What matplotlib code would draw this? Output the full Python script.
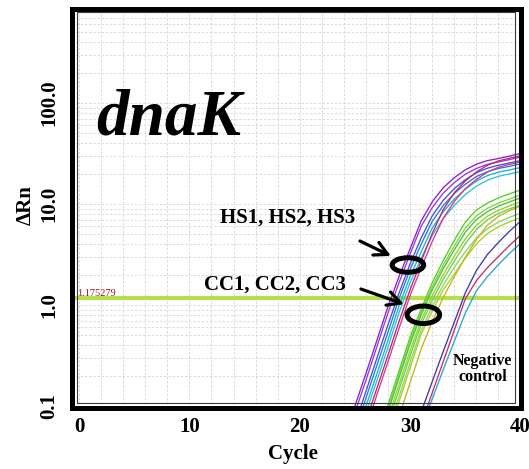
import matplotlib
matplotlib.use("Agg")
import matplotlib.pyplot as plt
from matplotlib.patches import Ellipse, Rectangle
from matplotlib.ticker import MultipleLocator, LogLocator, NullFormatter

plt.rcParams['font.family'] = ['Liberation Serif', 'DejaVu Serif']

# ---- amplification data (delta Rn per cycle) ----
HS_CYCLES = list(range(24, 41))
HS_CURVES = [
    [0.047, 0.10, 0.21, 0.45, 0.97, 1.92, 3.6, 6.8, 10.5, 14.5, 18.2, 21.8, 24.8, 26.9, 28.2, 29.8, 31.6],
    [0.040, 0.086, 0.18, 0.39, 0.84, 1.67, 3.2, 6.0, 9.2, 12.8, 16.3, 19.7, 22.5, 24.7, 26.1, 27.5, 29.2],
    [0.031, 0.066, 0.14, 0.30, 0.64, 1.32, 2.56, 4.61, 7.62, 10.9, 14.2, 17.4, 20.4, 22.6, 24.2, 25.5, 27.0],
    [0.026, 0.056, 0.12, 0.255, 0.54, 1.16, 2.25, 4.0, 6.71, 9.66, 12.7, 15.7, 18.7, 20.9, 22.5, 23.6, 25.0],
    [0.022, 0.047, 0.10, 0.21, 0.45, 0.98, 1.92, 3.36, 5.78, 8.39, 11.2, 14.0, 16.9, 19.1, 20.7, 21.7, 23.0],
    [0.019, 0.040, 0.086, 0.18, 0.385, 0.84, 1.67, 2.89, 4.86, 7.18, 9.68, 12.4, 15.0, 17.2, 18.8, 19.9, 21.0],
    [0.0155, 0.033, 0.071, 0.151, 0.32, 0.69, 1.42, 2.72, 5.1, 8.81, 12.9, 16.9, 20.7, 24.2, 26.7, 28.4, 30.0],
    [0.0133, 0.0285, 0.061, 0.13, 0.275, 0.59, 1.24, 2.33, 4.25, 7.23, 10.6, 14.2, 17.5, 20.7, 23.1, 24.7, 26.0],
]
HS_COLORS = ['#8a22cc', '#9a34e0', '#3656d6', '#2f72e0', '#16b2d0', '#2cc2dc', '#c42274', '#d23a8e']

CC_CYCLES = list(range(24, 41))
CC_CURVES = [
    [0.0049, 0.0105, 0.022, 0.048, 0.103, 0.223, 0.482, 0.912, 1.66, 2.75, 4.37, 6.61, 8.71, 10.2, 11.5, 12.6, 13.8],
    [0.0045, 0.0097, 0.0207, 0.044, 0.0955, 0.206, 0.446, 0.855, 1.52, 2.48, 3.85, 5.77, 7.62, 9.06, 10.2, 11.2, 12.3],
    [0.0042, 0.009, 0.019, 0.041, 0.088, 0.191, 0.413, 0.80, 1.41, 2.29, 3.52, 5.25, 7.0, 8.41, 9.53, 10.5, 11.5],
    [0.0036, 0.0077, 0.0165, 0.035, 0.076, 0.164, 0.354, 0.706, 1.23, 2.0, 3.04, 4.52, 6.15, 7.57, 8.65, 9.57, 10.5],
    [0.0032, 0.0068, 0.0147, 0.031, 0.068, 0.146, 0.315, 0.643, 1.11, 1.80, 2.72, 4.05, 5.58, 6.98, 8.04, 8.93, 9.8],
    [0.0027, 0.0059, 0.0127, 0.027, 0.058, 0.125, 0.27, 0.565, 0.968, 1.57, 2.36, 3.37, 4.59, 5.69, 6.62, 7.38, 8.1],
    [0.0024, 0.0052, 0.0113, 0.024, 0.052, 0.111, 0.24, 0.514, 0.871, 1.41, 2.03, 2.91, 4.04, 5.09, 5.95, 6.66, 7.3],
    [0.0018, 0.0037, 0.008, 0.017, 0.037, 0.079, 0.17, 0.368, 0.685, 1.19, 1.91, 2.97, 4.46, 6.17, 7.53, 8.59, 9.5],
]
CC_COLORS = ['#58cc26', '#7fd63a', '#40c440', '#9ad21e', '#66d04a', '#8ad858', '#a8d028', '#c4b41c']

NEG_CYCLES = list(range(29, 41))
NEG_CURVES = [
    [0.022, 0.044, 0.087, 0.174, 0.347, 0.676, 1.32, 2.19, 3.16, 4.17, 5.37, 6.76],
    [0.016, 0.032, 0.066, 0.135, 0.275, 0.562, 1.15, 1.74, 2.34, 3.02, 3.89, 4.90],
    [0.015, 0.031, 0.060, 0.117, 0.229, 0.437, 0.832, 1.38, 1.91, 2.51, 3.24, 4.07],
]
NEG_COLORS = ['#3c3ca8', '#c0306e', '#2aa4d4']

THRESHOLD = 1.175279
X_TICKS = [0, 10, 20, 30, 40]
Y_TICKS = [0.1, 1, 10, 100]
Y_TICK_LABELS = ['0.1', '1.0', '10.0', '100.0']

# ---- figure ----
W, H = 529, 469
fig = plt.figure(figsize=(W / 100, H / 100), dpi=100)
L, R, T, B = 71.5, 520.5, 9.0, 407.5
ax = fig.add_axes([L / W, 1 - B / H, (R - L) / W, (B - T) / H])

ax.set_yscale('log')
ax.set_xlim(-0.68, 40)
ax.set_ylim(0.0966, 853)

# grid
ax.xaxis.set_minor_locator(MultipleLocator(2))
ax.yaxis.set_minor_locator(LogLocator(base=10, subs=range(2, 10)))
ax.yaxis.set_minor_formatter(NullFormatter())
ax.grid(True, which='both', color='#d6d6d6', linestyle=(0, (3, 2)), linewidth=0.6)
ax.set_axisbelow(True)

# threshold
ax.axhline(THRESHOLD, color='#b6e04a', linewidth=3.0, zorder=1.5)
ax.text(0.012, THRESHOLD, f'{THRESHOLD:.6f}', transform=ax.get_yaxis_transform(),
        color='#a01818', fontsize=7.5, va='bottom', ha='left', zorder=3)

# curves
for ys, c in zip(HS_CURVES, HS_COLORS):
    ax.plot(HS_CYCLES, ys, color=c, linewidth=0.95, zorder=2)
for ys, c in zip(CC_CURVES, CC_COLORS):
    ax.plot(CC_CYCLES, ys, color=c, linewidth=0.95, zorder=2)
for ys, c in zip(NEG_CURVES, NEG_COLORS):
    ax.plot(NEG_CYCLES, ys, color=c, linewidth=0.95, zorder=2)

# axes styling
for sp in ax.spines.values():
    sp.set_linewidth(3.6)
    sp.set_color('black')
    sp.set_zorder(5)
ax.tick_params(which='both', length=0)
ax.tick_params(axis='x', pad=7, labelsize=15)
ax.tick_params(axis='y', pad=8.5, labelsize=15)
ax.set_xticks(X_TICKS)
ax.set_xticklabels([str(t) for t in X_TICKS], fontweight='bold')
ax.set_yticks(Y_TICKS)
ax.set_yticklabels(Y_TICK_LABELS, fontweight='bold', rotation=90, va='center')

ax.set_xlabel('Cycle', fontsize=15, fontweight='bold')
ax.xaxis.label.set_va('center')
ax.xaxis.set_label_coords(0.4933, -0.1157)
ax.set_ylabel('ΔRn', fontsize=15, fontweight='bold')
ax.yaxis.label.set_va('center')
ax.yaxis.set_label_coords(-0.1013, 0.508)

# inner thin frame
fig.add_artist(Rectangle((77 / W, 1 - 402.5 / H), (515 - 77) / W, (402.5 - 12.5) / H,
                         transform=fig.transFigure, fill=False, linewidth=0.8,
                         edgecolor='#3a3a3a', zorder=6))

# annotations
ax.text(0.0546, 0.6863, 'dnaK', transform=ax.transAxes, fontsize=47,
        fontweight='bold', fontstyle='italic', va='baseline', ha='left')
ax.text(0.482, 0.463, 'HS1, HS2, HS3', transform=ax.transAxes, fontsize=15,
        fontweight='bold', ha='center', va='baseline')
ax.text(0.4543, 0.2949, 'CC1, CC2, CC3', transform=ax.transAxes, fontsize=15,
        fontweight='bold', ha='center', va='baseline')
ax.text(0.9154, 0.0966, 'Negative\ncontrol', transform=ax.transAxes, fontsize=11.5,
        fontweight='bold', ha='center', va='center', linespacing=1.05)

arrow = dict(arrowstyle='->,head_length=0.95,head_width=0.5', lw=2.3,
             color='black', shrinkA=0, shrinkB=0, mutation_scale=10)
ax.annotate('', xy=(28.26, 3.06), xytext=(25.45, 4.30), arrowprops=arrow, zorder=4)
ax.annotate('', xy=(29.44, 1.02), xytext=(25.54, 1.44), arrowprops=arrow, zorder=4)

to_axes = lambda pt: ax.transAxes.inverted().transform(ax.transData.transform(pt))
for (cx, cy), (w, h) in [((29.8, 2.49), (31.5, 14.5)), ((31.2, 0.80), (32.5, 17.5))]:
    ctr = to_axes((cx, cy))
    ax.add_patch(Ellipse(ctr, w / (R - L), h / (B - T), transform=ax.transAxes,
                         fill=False, linewidth=3.6, edgecolor='black', zorder=4))

fig.savefig('out.png', dpi=100)
